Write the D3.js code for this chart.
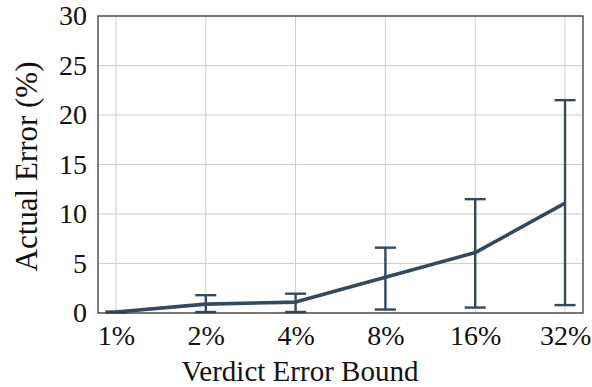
<!DOCTYPE html>
<html>
<head>
<meta charset="utf-8">
<script src="https://cdn.jsdelivr.net/npm/d3@7"></script>
<style>
  html, body { margin: 0; padding: 0; background: #fff; }
</style>
</head>
<body>
<svg id="chart" width="592" height="387"></svg>
<script>
// Error bound settings on the x axis
const bounds = ["1%", "2%", "4%", "8%", "16%", "32%"];
// Mean actual error (%) for each bound
const meanError = [0.1, 0.9, 1.1, 3.6, 6.1, 11.1];
// Lower and upper ends of the error bars (%)
const lowError = [0.05, 0.1, 0.1, 0.35, 0.55, 0.8];
const highError = [0.15, 1.8, 1.95, 6.6, 11.5, 21.5];
// Y axis ticks
const yTicks = [0, 5, 10, 15, 20, 25, 30];

const FONT = "Liberation Serif";
const svg = d3.select("#chart");
const margin = { left: 98, right: 9, top: 16, bottom: 74 };
const W = 592, H = 387;
const x = d3.scalePoint().domain(bounds).range([margin.left, W - margin.right]).padding(0.2);
const y = d3.scaleLinear().domain([0, 30]).range([H - margin.bottom, margin.top]);

const color = "#34495e";
const grid = svg.append("g");

// grid lines
grid.selectAll("line.v").data(bounds).join("line")
  .attr("x1", d => x(d)).attr("x2", d => x(d))
  .attr("y1", y(0)).attr("y2", y(30))
  .attr("stroke", "#cfcfcf").attr("stroke-width", 1);
grid.selectAll("line.h").data(yTicks).join("line")
  .attr("x1", margin.left).attr("x2", W - margin.right)
  .attr("y1", d => y(d)).attr("y2", d => y(d))
  .attr("stroke", "#cfcfcf").attr("stroke-width", 1);

// axes with labels only (frame drawn separately)
const xAxis = svg.append("g").attr("transform", `translate(0,${y(0)})`)
  .call(d3.axisBottom(x).tickSize(0).tickPadding(12));
const yAxis = svg.append("g").attr("transform", `translate(${margin.left},0)`)
  .call(d3.axisLeft(y).tickValues(yTicks).tickSize(0).tickPadding(11));
[xAxis, yAxis].forEach(a => {
  a.attr("font-family", FONT).attr("font-size", 28);
  a.select(".domain").remove();
  a.selectAll("text").attr("fill", "#111");
});

// error bars
const bars = svg.append("g").attr("stroke", color).attr("stroke-width", 2.4);
bounds.forEach((b, i) => {
  const cx = x(b);
  bars.append("line").attr("x1", cx).attr("x2", cx).attr("y1", y(lowError[i])).attr("y2", y(highError[i]));
  bars.append("line").attr("x1", cx - 10.5).attr("x2", cx + 10.5).attr("y1", y(lowError[i])).attr("y2", y(lowError[i]));
  bars.append("line").attr("x1", cx - 10.5).attr("x2", cx + 10.5).attr("y1", y(highError[i])).attr("y2", y(highError[i]));
});

// mean line
const line = d3.line().x((d, i) => x(bounds[i])).y(d => y(d));
svg.append("path").datum(meanError)
  .attr("d", line).attr("fill", "none")
  .attr("stroke", color).attr("stroke-width", 3.6).attr("stroke-linejoin", "round");

// frame
svg.append("rect")
  .attr("x", margin.left).attr("y", margin.top)
  .attr("width", W - margin.right - margin.left).attr("height", y(0) - margin.top)
  .attr("fill", "none").attr("stroke", "#3a3a3a").attr("stroke-width", 1.3);

// axis titles
svg.append("text").attr("x", 300).attr("y", 381)
  .attr("text-anchor", "middle").attr("font-family", FONT).attr("font-size", 29)
  .attr("fill", "#111").text("Verdict Error Bound");
svg.append("text").attr("transform", `translate(37,${(margin.top + y(0)) / 2 + 2}) rotate(-90)`)
  .attr("text-anchor", "middle").attr("font-family", FONT).attr("font-size", 31)
  .attr("fill", "#111").text("Actual Error (%)");
</script>
</body>
</html>
